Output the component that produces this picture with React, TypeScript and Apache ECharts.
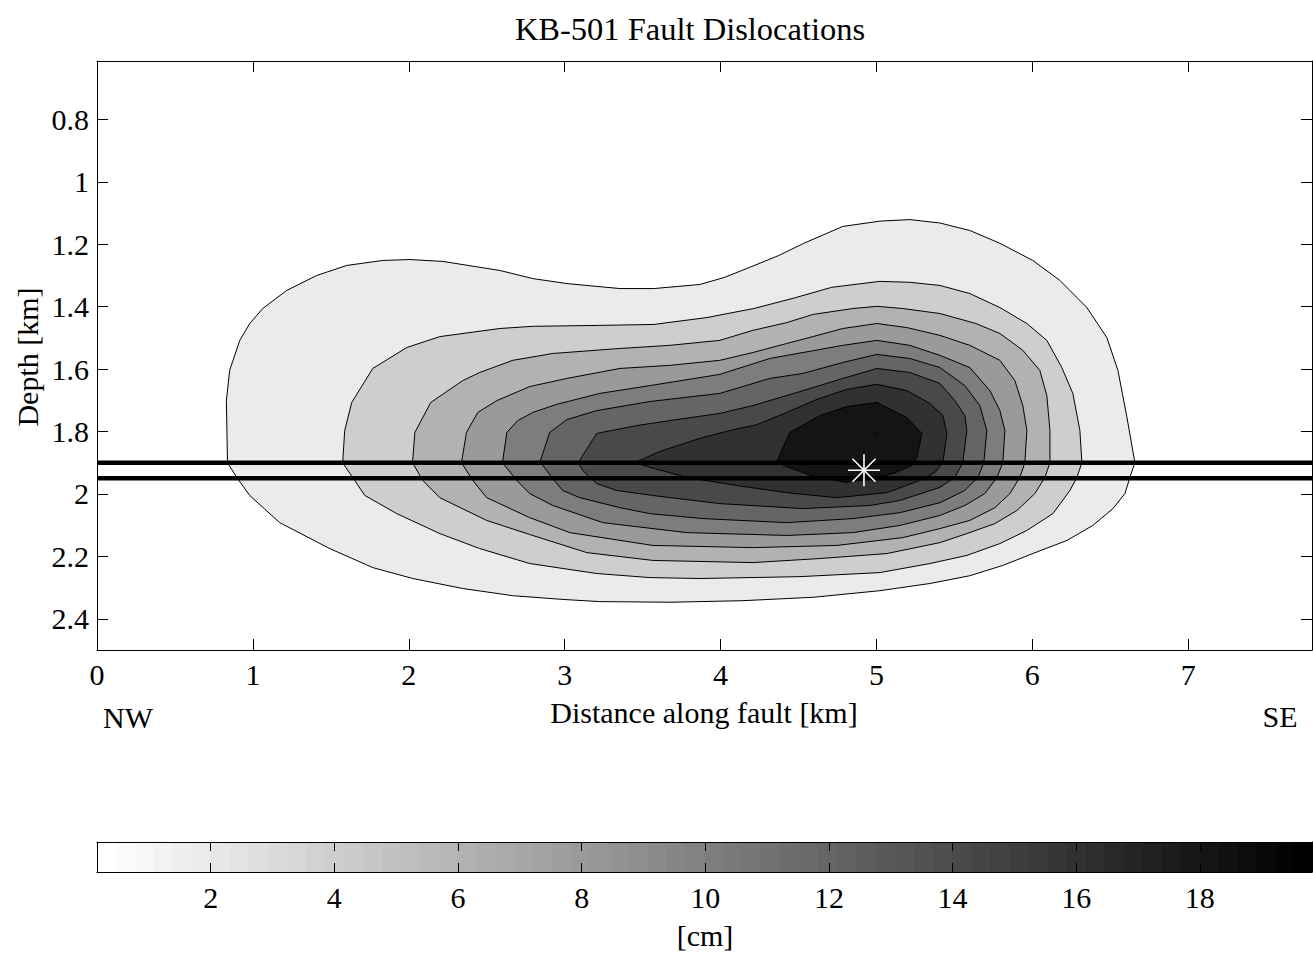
import React, { useEffect, useRef } from 'react';
import * as echarts from 'echarts';

const TITLE = 'KB-501 Fault Dislocations';
const X_NAME = 'Distance along fault [km]';
const Y_NAME = 'Depth [km]';
const CB_NAME = '[cm]';
const LEFT_TAG = 'NW';
const RIGHT_TAG = 'SE';

const X_RANGE = [0, 7.794];
const Y_RANGE = [0.613, 2.5];
const X_TICKS = [0, 1, 2, 3, 4, 5, 6, 7];
const Y_TICKS = [0.8, 1, 1.2, 1.4, 1.6, 1.8, 2, 2.2, 2.4];
const CB_RANGE = [0.16, 19.815];
const CB_TICKS = [2, 4, 6, 8, 10, 12, 14, 16, 18];
const CMAP_STEPS = 64;
const LEVELS = [2, 4, 6, 8, 10, 12, 14, 16, 18];

// contour outlines [distance km, depth km], one per level
const C1 = [[0.837,1.9],[0.830,1.701],[0.851,1.604],[0.916,1.508],[0.980,1.454],[1.063,1.406],[1.217,1.348],[1.410,1.300],[1.602,1.268],[1.833,1.252],[2.006,1.249],[2.218,1.255],[2.584,1.284],[2.795,1.310],[3.014,1.326],[3.354,1.342],[3.572,1.342],[3.867,1.329],[4.027,1.306],[4.187,1.274],[4.374,1.236],[4.534,1.197],[4.784,1.143],[5.022,1.126],[5.214,1.121],[5.407,1.132],[5.599,1.156],[5.792,1.197],[6.003,1.252],[6.177,1.316],[6.350,1.403],[6.478,1.499],[6.549,1.604],[6.607,1.755],[6.658,1.9],[6.626,1.947],[6.594,1.999],[6.517,2.047],[6.388,2.101],[6.222,2.149],[6.003,2.191],[5.811,2.229],[5.599,2.262],[5.343,2.287],[5.022,2.310],[4.598,2.331],[4.143,2.342],[3.681,2.347],[3.225,2.345],[2.988,2.338],[2.667,2.326],[2.346,2.303],[2.026,2.271],[1.769,2.236],[1.493,2.175],[1.172,2.092],[0.980,2.005],[0.896,1.947]];
const C2 = [[1.576,1.9],[1.589,1.797],[1.634,1.707],[1.769,1.598],[1.987,1.531],[2.199,1.496],[2.584,1.470],[2.795,1.463],[3.225,1.460],[3.572,1.457],[3.912,1.435],[4.213,1.406],[4.482,1.371],[4.713,1.338],[5.022,1.319],[5.214,1.322],[5.407,1.332],[5.599,1.358],[5.792,1.403],[5.965,1.454],[6.093,1.508],[6.189,1.595],[6.260,1.678],[6.305,1.797],[6.318,1.9],[6.286,1.947],[6.241,1.989],[6.132,2.063],[5.965,2.117],[5.792,2.159],[5.580,2.197],[5.343,2.223],[5.022,2.252],[4.509,2.265],[3.867,2.271],[3.546,2.268],[3.206,2.255],[2.776,2.223],[2.455,2.175],[2.199,2.127],[1.923,2.063],[1.718,2.005],[1.653,1.957]];
const C3 = [[2.024,1.9],[2.039,1.803],[2.141,1.707],[2.346,1.637],[2.455,1.611],[2.667,1.572],[2.924,1.55],[3.354,1.534],[3.674,1.524],[3.995,1.508],[4.207,1.476],[4.425,1.451],[4.592,1.425],[4.849,1.406],[5.003,1.399],[5.169,1.406],[5.407,1.422],[5.638,1.454],[5.792,1.486],[5.939,1.540],[6.048,1.604],[6.093,1.685],[6.113,1.797],[6.113,1.9],[6.081,1.947],[6.016,1.999],[5.901,2.053],[5.760,2.095],[5.580,2.127],[5.407,2.156],[5.067,2.191],[4.637,2.207],[4.207,2.220],[3.565,2.213],[3.142,2.188],[2.776,2.130],[2.500,2.085],[2.199,2.012],[2.090,1.957]];
const C4 = [[2.338,1.9],[2.370,1.803],[2.443,1.739],[2.565,1.701],[2.776,1.656],[3.014,1.630],[3.354,1.598],[3.674,1.588],[3.995,1.572],[4.207,1.547],[4.425,1.518],[4.592,1.496],[4.784,1.470],[5.003,1.454],[5.195,1.467],[5.407,1.492],[5.599,1.524],[5.792,1.572],[5.888,1.637],[5.939,1.717],[5.965,1.797],[5.952,1.9],[5.920,1.947],[5.856,1.999],[5.760,2.044],[5.599,2.085],[5.407,2.111],[5.169,2.140],[4.746,2.165],[4.207,2.172],[3.565,2.165],[3.033,2.124],[2.776,2.076],[2.500,2.012],[2.411,1.957]];
const C5 = [[2.601,1.9],[2.629,1.803],[2.699,1.765],[2.795,1.739],[2.949,1.713],[3.225,1.678],[3.546,1.653],[3.995,1.617],[4.316,1.566],[4.528,1.547],[4.784,1.524],[5.003,1.508],[5.214,1.524],[5.407,1.556],[5.599,1.595],[5.728,1.669],[5.792,1.733],[5.824,1.797],[5.811,1.9],[5.773,1.947],[5.695,1.999],[5.567,2.037],[5.407,2.069],[5.150,2.101],[4.849,2.124],[4.425,2.133],[3.784,2.124],[3.245,2.092],[2.924,2.037],[2.776,1.999],[2.693,1.957]];
const C6 = [[2.840,1.9],[2.904,1.803],[3.014,1.762],[3.206,1.733],[3.546,1.704],[3.995,1.678],[4.316,1.630],[4.528,1.614],[4.784,1.579],[5.003,1.553],[5.214,1.566],[5.407,1.595],[5.567,1.653],[5.663,1.717],[5.708,1.797],[5.689,1.9],[5.651,1.947],[5.567,1.989],[5.407,2.028],[5.150,2.060],[4.849,2.079],[4.425,2.092],[3.886,2.079],[3.546,2.063],[3.354,2.044],[3.097,2.012],[2.988,1.989],[2.924,1.951],[2.860,1.909]];
const C7 = [[3.086,1.9],[3.206,1.806],[3.463,1.781],[3.674,1.765],[3.995,1.742],[4.207,1.717],[4.509,1.672],[4.784,1.630],[5.003,1.598],[5.214,1.611],[5.407,1.646],[5.503,1.701],[5.567,1.749],[5.580,1.797],[5.554,1.9],[5.503,1.947],[5.407,1.979],[5.150,2.021],[4.958,2.037],[4.528,2.047],[3.995,2.031],[3.565,2.005],[3.334,1.989],[3.206,1.967],[3.116,1.925]];
const C8 = [[3.450,1.9],[3.610,1.864],[3.867,1.822],[4.060,1.797],[4.233,1.778],[4.425,1.739],[4.618,1.697],[4.810,1.665],[5.003,1.649],[5.195,1.669],[5.343,1.710],[5.426,1.749],[5.452,1.806],[5.426,1.9],[5.375,1.931],[5.278,1.957],[5.067,1.996],[4.746,2.012],[4.425,1.996],[4.104,1.973],[3.784,1.947],[3.578,1.919]];
const C9 = [[4.359,1.9],[4.412,1.838],[4.444,1.803],[4.637,1.749],[4.810,1.720],[5.003,1.707],[5.195,1.755],[5.292,1.806],[5.259,1.883],[5.227,1.909],[5.105,1.935],[4.977,1.951],[4.803,1.963],[4.579,1.941]];
const CONTOURS = [C1, C2, C3, C4, C5, C6, C7, C8, C9];

const FAULT_DEPTHS = [1.9, 1.95];
const HYPOCENTER = [4.92, 1.924];
const PEAK_DOT = [5.003, 1.806];

const FONT = '"Liberation Serif", "Times New Roman", serif';
const FS = 30;
const FS_TITLE = 32.5;

function grayIndex(v: number) {
  const t = (v - CB_RANGE[0]) / (CB_RANGE[1] - CB_RANGE[0]);
  return Math.min(CMAP_STEPS - 1, Math.max(0, Math.floor(t * CMAP_STEPS)));
}
function grayOfIndex(i: number) {
  const g = Math.round(255 * (1 - i / (CMAP_STEPS - 1)));
  return `rgb(${g},${g},${g})`;
}

const CB_CELLS = Array.from({ length: CMAP_STEPS }, (_, i) => {
  const w = (CB_RANGE[1] - CB_RANGE[0]) / CMAP_STEPS;
  return [CB_RANGE[0] + i * w, CB_RANGE[0] + (i + 1) * w, i];
});

export default function App() {
  const ref = useRef<HTMLDivElement>(null);
  useEffect(() => {
    if (!ref.current) return;
    const chart = echarts.init(ref.current, null, { renderer: 'svg' });
    const labelStyle = { color: '#000', fontFamily: FONT, fontSize: FS };
    const line = { show: true, onZero: false, lineStyle: { color: '#000', width: 1 } };
    const txt = (text: string, x: number, y: number, size: number, rotation = 0) => ({
      type: 'text', x, y, rotation, z: 100,
      style: { text, fill: '#000', font: `${size}px ${FONT}`, align: 'center', verticalAlign: 'middle', textAlign: 'center', textVerticalAlign: 'middle' },
    });
    const tick = (len: number, values: number[]) => ({ show: true, inside: true, length: len, customValues: values, lineStyle: { color: '#000', width: 1 } });
    chart.setOption({
      animation: false,
      backgroundColor: '#fff',
      grid: [
        { left: 97, top: 61, width: 1215, height: 589 },
        { left: 97, top: 842, width: 1215, height: 30 },
      ],
      xAxis: [
        { gridIndex: 0, type: 'value', min: X_RANGE[0], max: X_RANGE[1], position: 'bottom', z: 10,
          axisLine: line, splitLine: { show: false }, axisTick: tick(11, X_TICKS),
          axisLabel: { ...labelStyle, margin: 9, customValues: X_TICKS } },
        { gridIndex: 0, type: 'value', min: X_RANGE[0], max: X_RANGE[1], position: 'top', z: 10,
          axisLine: line, splitLine: { show: false }, axisTick: tick(11, X_TICKS), axisLabel: { show: false } },
        { gridIndex: 1, type: 'value', min: CB_RANGE[0], max: CB_RANGE[1], position: 'bottom', z: 10,
          axisLine: line, splitLine: { show: false }, axisTick: tick(9, CB_TICKS),
          axisLabel: { ...labelStyle, margin: 10, customValues: CB_TICKS } },
        { gridIndex: 1, type: 'value', min: CB_RANGE[0], max: CB_RANGE[1], position: 'top', z: 10,
          axisLine: line, splitLine: { show: false }, axisTick: tick(9, CB_TICKS), axisLabel: { show: false } },
      ],
      yAxis: [
        { gridIndex: 0, type: 'value', inverse: true, min: Y_RANGE[0], max: Y_RANGE[1], position: 'left', z: 10,
          axisLine: line, splitLine: { show: false }, axisTick: tick(11, Y_TICKS),
          axisLabel: { ...labelStyle, margin: 8, customValues: Y_TICKS } },
        { gridIndex: 0, type: 'value', inverse: true, min: Y_RANGE[0], max: Y_RANGE[1], position: 'right', z: 10,
          axisLine: line, splitLine: { show: false }, axisTick: tick(11, Y_TICKS), axisLabel: { show: false } },
        { gridIndex: 1, type: 'value', min: 0, max: 1, position: 'left', z: 10,
          axisLine: line, splitLine: { show: false }, axisTick: { show: false }, axisLabel: { show: false } },
        { gridIndex: 1, type: 'value', min: 0, max: 1, position: 'right', z: 10,
          axisLine: line, splitLine: { show: false }, axisTick: { show: false }, axisLabel: { show: false } },
      ],
      series: [
        {
          type: 'custom', xAxisIndex: 0, yAxisIndex: 0, silent: true, z: 2,
          data: CONTOURS.map((c, i) => [c[0][0], c[0][1], i]),
          renderItem: (params: any, api: any) => {
            const i = params.dataIndex;
            const pts = CONTOURS[i].map((p) => api.coord(p));
            return {
              type: 'polygon',
              shape: { points: pts },
              style: { fill: grayOfIndex(grayIndex(LEVELS[i])), stroke: '#000', lineWidth: 1 },
            };
          },
        },
        {
          type: 'scatter', xAxisIndex: 0, yAxisIndex: 0, silent: true, z: 3,
          symbolSize: 2, itemStyle: { color: '#000' }, data: [PEAK_DOT],
        },
        ...FAULT_DEPTHS.map((d) => ({
          type: 'line', xAxisIndex: 0, yAxisIndex: 0, silent: true, z: 4,
          symbol: 'none', lineStyle: { color: '#000', width: 4.5 },
          data: [[X_RANGE[0], d], [X_RANGE[1], d]],
        })),
        {
          type: 'custom', xAxisIndex: 0, yAxisIndex: 0, silent: true, z: 6,
          data: [HYPOCENTER],
          renderItem: (params: any, api: any) => {
            const [cx, cy] = api.coord([api.value(0), api.value(1)]);
            const r = 16, d = 11.5;
            const st = { stroke: '#fff', lineWidth: 1.6 };
            return {
              type: 'group',
              children: [
                { type: 'line', shape: { x1: cx - r, y1: cy, x2: cx + r, y2: cy }, style: st },
                { type: 'line', shape: { x1: cx, y1: cy - r, x2: cx, y2: cy + r }, style: st },
                { type: 'line', shape: { x1: cx - d, y1: cy - d, x2: cx + d, y2: cy + d }, style: st },
                { type: 'line', shape: { x1: cx - d, y1: cy + d, x2: cx + d, y2: cy - d }, style: st },
              ],
            };
          },
        },
        {
          type: 'custom', xAxisIndex: 2, yAxisIndex: 2, silent: true, z: 2,
          data: CB_CELLS,
          renderItem: (params: any, api: any) => {
            const s = api.value(0), e = api.value(1), k = api.value(2);
            const p0 = api.coord([s, 1]);
            const p1 = api.coord([e, 0]);
            return {
              type: 'rect',
              shape: { x: p0[0], y: p0[1], width: p1[0] - p0[0] + 0.6, height: p1[1] - p0[1] },
              style: { fill: grayOfIndex(k) },
            };
          },
        },
      ],
      graphic: [
        txt(TITLE, 690, 29, FS_TITLE),
        txt(Y_NAME, 27, 357, FS, Math.PI / 2),
        txt(X_NAME, 704, 712, FS),
        txt(LEFT_TAG, 128, 717, FS),
        txt(RIGHT_TAG, 1280, 716, FS),
        txt(CB_NAME, 705, 935, FS),
      ],
    });
    return () => chart.dispose();
  }, []);
  return <div ref={ref} style={{ position: 'absolute', left: 0, top: 0, width: 1313, height: 954 }} />;
}
